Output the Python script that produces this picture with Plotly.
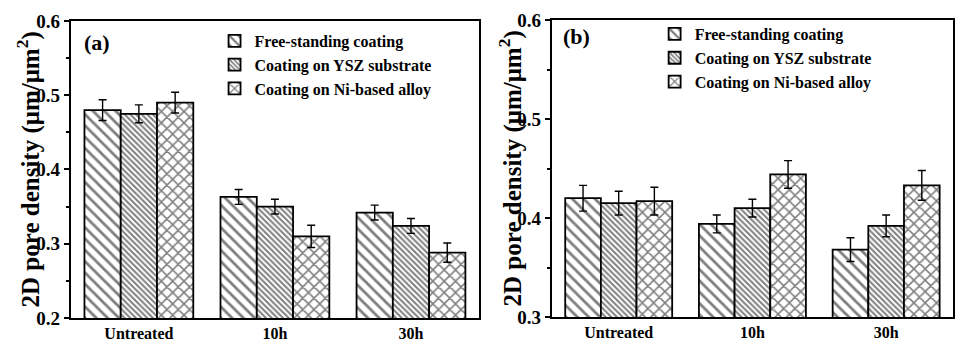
import plotly.graph_objects as go

categories = ["Untreated", "10h", "30h"]
series_names = ["Free-standing coating", "Coating on YSZ substrate", "Coating on Ni-based alloy"]

# Panel (a)
a_free = [0.480, 0.363, 0.342]
a_free_err = [0.014, 0.010, 0.010]
a_ysz = [0.475, 0.350, 0.324]
a_ysz_err = [0.012, 0.010, 0.010]
a_ni = [0.490, 0.310, 0.288]
a_ni_err = [0.014, 0.015, 0.013]

# Panel (b)
b_free = [0.420, 0.394, 0.368]
b_free_err = [0.013, 0.009, 0.012]
b_ysz = [0.415, 0.410, 0.392]
b_ysz_err = [0.012, 0.009, 0.011]
b_ni = [0.417, 0.444, 0.433]
b_ni_err = [0.014, 0.014, 0.015]

FONT = "Liberation Serif"
W, H = 955, 342

def f(size):
    return dict(family=FONT, size=size, color="black", weight="bold")

patterns = [dict(shape="\\", size=8, solidity=0.35, fgcolor="black", bgcolor="white"),
            dict(shape="\\", size=4, solidity=0.5, fgcolor="black", bgcolor="white"),
            dict(shape="x", size=8, solidity=0.35, fgcolor="black", bgcolor="white")]

fig = go.Figure()

panels = [
    ("x", "y", "legend", [a_free, a_ysz, a_ni], [a_free_err, a_ysz_err, a_ni_err]),
    ("x2", "y2", "legend2", [b_free, b_ysz, b_ni], [b_free_err, b_ysz_err, b_ni_err]),
]
for xa, ya, lg, vals, errs in panels:
    for i in range(3):
        fig.add_trace(go.Bar(
            x=categories, y=vals[i], name=series_names[i],
            xaxis=xa, yaxis=ya, legend=lg,
            marker=dict(color="white", line=dict(color="black", width=1.8), pattern=patterns[i]),
            error_y=dict(type="data", array=errs[i], visible=True, color="black", thickness=1.4, width=4),
        ))

def px(xp):
    return xp / W

mt, mb = 20, 21
ph = H - mt - mb
def py(yp):
    return 1 - (yp - mt) / ph

common_x = dict(type="category", range=[-0.5, 2.5], showline=True, linecolor="black", linewidth=2,
                mirror=True, ticks="", tickfont=f(16), showgrid=False)
common_y = dict(showline=True, linecolor="black", linewidth=2, mirror=True, ticks="outside", ticklen=5,
                tickwidth=1.5, tickcolor="black", tickfont=f(19), showgrid=False, zeroline=False,
                dtick=0.1, tickformat=".1f",
                minor=dict(dtick=0.05, ticks="outside", ticklen=3, tickwidth=1.5, tickcolor="black"))

fig.update_layout(
    width=W, height=H,
    margin=dict(l=0, r=0, t=mt, b=mb),
    paper_bgcolor="white", plot_bgcolor="white",
    barmode="group", bargap=0.2, bargroupgap=0,
    font=f(16),
    xaxis=dict(domain=[px(71), px(480)], anchor="y", **common_x),
    yaxis=dict(domain=[py(321), py(21)], anchor="x", range=[0.2, 0.6], **common_y),
    xaxis2=dict(domain=[px(553), 1.0], anchor="y2", **common_x),
    yaxis2=dict(domain=[py(320), py(20)], anchor="x2", range=[0.3, 0.6], **common_y),
    legend=dict(x=px(215), y=py(24), xanchor="left", yanchor="top", bgcolor="rgba(0,0,0,0)",
                font=f(16), tracegroupgap=0, itemwidth=30),
    legend2=dict(x=px(656), y=py(17), xanchor="left", yanchor="top", bgcolor="rgba(0,0,0,0)",
                 font=f(16), tracegroupgap=0, itemwidth=30),
    showlegend=True,
)

title_text = "2D pore density (μm/μm<sup>2</sup>)"
fig.add_annotation(text=title_text, x=px(29), y=py(171), xref="paper", yref="paper", textangle=-90,
                   xanchor="center", yanchor="middle", showarrow=False, font=f(25))
fig.add_annotation(text=title_text, x=px(512), y=py(170), xref="paper", yref="paper", textangle=-90,
                   xanchor="center", yanchor="middle", showarrow=False, font=f(25))
fig.add_annotation(text="(a)", x=px(82), y=py(43), xref="paper", yref="paper", xanchor="left",
                   yanchor="middle", showarrow=False, font=f(22))
fig.add_annotation(text="(b)", x=px(562), y=py(37), xref="paper", yref="paper", xanchor="left",
                   yanchor="middle", showarrow=False, font=f(22))

fig.write_html("out.html")
